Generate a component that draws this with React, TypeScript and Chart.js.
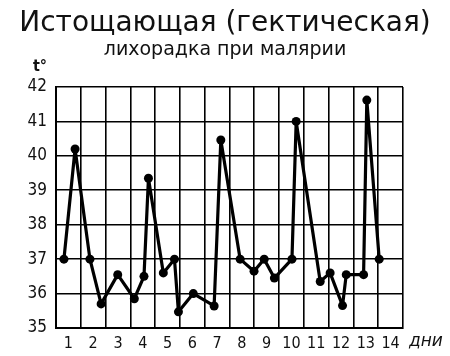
import React, { useEffect, useRef } from "react";
import { Chart, registerables } from "chart.js";

Chart.register(...registerables);

const titleText = "Истощающая (гектическая)";
const subtitleText = "лихорадка при малярии";
const yUnitLabel = "t°";
const xUnitLabel = "дни";
const dayLabels = ["1", "2", "3", "4", "5", "6", "7", "8", "9", "10", "11", "12", "13", "14"];
// position of each measurement along the day axis (0 = start of day 1)
const measureX = [
  0.32, 0.77, 1.37, 1.82, 2.49, 3.16, 3.55, 3.73, 4.33, 4.78, 4.94, 5.54, 6.38, 6.65,
  7.43, 7.99, 8.4, 8.81, 9.52, 9.69, 10.66, 11.06, 11.56, 11.71, 12.41, 12.54, 13.04,
];
const temps = [
  37.0, 40.2, 37.0, 35.7, 36.55, 35.85, 36.5, 39.35, 36.6, 37.0, 35.47, 36.0, 35.64, 40.46,
  37.0, 36.65, 37.0, 36.45, 37.0, 41.0, 36.35, 36.6, 35.65, 36.55, 36.55, 41.62, 37.0,
];
const yMin = 35;
const yMax = 42;

const tickFont = "'DejaVu Sans Condensed', 'Liberation Sans Narrow', sans-serif";

const unitPlugin = {
  id: "unitLabels",
  afterDraw(chart: any) {
    const { ctx, chartArea } = chart;
    ctx.save();
    ctx.fillStyle = "#111";
    ctx.font = `bold 16px ${tickFont}`;
    ctx.textAlign = "center";
    ctx.textBaseline = "middle";
    ctx.fillText(yUnitLabel, chartArea.left - 16, chartArea.top - 20);
    ctx.font = `italic 17px 'DejaVu Sans', sans-serif`;
    ctx.textAlign = "left";
    ctx.fillText(xUnitLabel, chartArea.right + 6, chartArea.bottom + 14);
    ctx.restore();
  },
};

export default function App() {
  const ref = useRef<HTMLCanvasElement | null>(null);
  useEffect(() => {
    if (!ref.current) return;
    const chart = new Chart(ref.current, {
      type: "line",
      data: {
        datasets: [
          {
            data: measureX.map((x, i) => ({ x, y: temps[i] })),
            borderColor: "#000",
            backgroundColor: "#000",
            borderWidth: 3.2,
            borderJoinStyle: "round",
            borderCapStyle: "round",
            pointRadius: 4.5,
            pointBackgroundColor: "#000",
            pointBorderWidth: 0,
            tension: 0,
            yAxisID: "y",
          },
        ],
      },
      options: {
        animation: false,
        responsive: false,
        layout: { padding: 0 },
        plugins: {
          legend: { display: false },
          tooltip: { enabled: false },
          title: {
            display: true,
            text: titleText,
            color: "#111",
            font: { family: "'DejaVu Sans', sans-serif", size: 28, weight: "normal", lineHeight: 1 },
            padding: { top: 10, bottom: 3 },
          },
          subtitle: {
            display: true,
            text: subtitleText,
            color: "#111",
            font: { family: "'DejaVu Sans', sans-serif", size: 19, weight: "normal", lineHeight: 1 },
            padding: { top: 0, bottom: 27 },
          },
        },
        scales: {
          x: {
            type: "linear",
            min: 0,
            max: dayLabels.length,
            afterFit: (s: any) => {
              s.height = 28;
            },
            ticks: {
              stepSize: 0.5,
              autoSkip: false,
              maxRotation: 0,
              padding: 6,
              color: "#111",
              font: { family: tickFont, size: 16 },
              callback: (v: any) => {
                const n = Number(v);
                if (Number.isInteger(n)) return "";
                return dayLabels[Math.floor(n)] ?? "";
              },
            },
            grid: {
              drawTicks: false,
              lineWidth: 1.6,
              color: (c: any) => (c.tick && Number.isInteger(c.tick.value) ? "#000" : "rgba(0,0,0,0)"),
            },
            border: { color: "#000", width: 2 },
          },
          y: {
            min: yMin,
            max: yMax,
            afterFit: (s: any) => {
              s.width = 56;
            },
            ticks: {
              stepSize: 1,
              padding: 9,
              color: "#111",
              font: { family: tickFont, size: 17 },
            },
            grid: { drawTicks: false, lineWidth: 1.6, color: "#000" },
            border: { color: "#000", width: 2 },
          },
          yRight: {
            position: "right",
            min: yMin,
            max: yMax,
            afterFit: (s: any) => {
              s.width = 47;
            },
            ticks: { display: false },
            grid: { display: false, drawTicks: false },
            border: { display: false },
          },
        },
      },
      plugins: [unitPlugin],
    });
    return () => chart.destroy();
  }, []);
  return (
    <div style={{ position: "fixed", left: 0, top: 0, width: 450, height: 356, background: "#fff" }}>
      <canvas ref={ref} width={450} height={356} style={{ width: 450, height: 356, display: "block" }} />
    </div>
  );
}
